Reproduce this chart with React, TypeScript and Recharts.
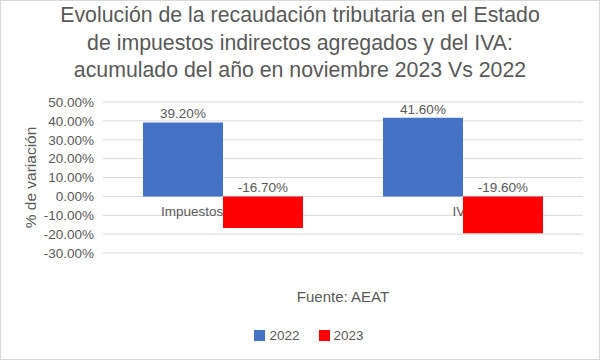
import React from 'react';
import { BarChart, Bar, XAxis, YAxis, CartesianGrid, Legend, LabelList, Rectangle } from 'recharts';

const categories = ['Impuestos indirectos', 'IVA'];
const values2022 = [0.392, 0.416];
const values2023 = [-0.167, -0.196];
const seriesNames = ['2022', '2023'];
const seriesColors = ['#4472C4', '#FF0000'];
const yTicks = [-0.3, -0.2, -0.1, 0, 0.1, 0.2, 0.3, 0.4, 0.5];
const titleLines = [
  'Evolución de la recaudación tributaria en el Estado',
  'de impuestos indirectos agregados y del IVA:',
  'acumulado del año en noviembre 2023 Vs 2022',
];
const yAxisTitle = '% de variación';
const xAxisTitle = 'Fuente: AEAT';

const data = categories.map((c, i) => ({ name: c, s2022: values2022[i], s2023: values2023[i] }));

const W = 600;
const H = 360;
const X_AXIS_H = 30;
const MARGIN = { top: 102, right: 17, bottom: 77, left: 8 };
const DOMAIN: [number, number] = [-0.3, 0.5];

const FONT = '"Liberation Sans", Arial, sans-serif';
const GREY = '#595959';

const pct = (v: number) => (v * 100).toFixed(2) + '%';

// First series shape: draws the bar and, underneath the next series, the category name
// at the zero line (like Excel's "axis at zero" category labels).
const FirstSeriesShape = (props: any) => {
  const { x, y, width, height, payload } = props;
  const zero = Math.max(y, y + height);
  return (
    <g>
      <text x={x + width} y={zero + 20} textAnchor="middle" fill={GREY} fontSize={13.5} fontFamily={FONT}>
        {payload.name}
      </text>
      <Rectangle {...props} />
    </g>
  );
};

const ValueLabel = (props: any) => {
  const { x, y, width, height, value } = props;
  const top = Math.min(y, y + height);
  return (
    <text x={x + width / 2} y={top - 4} textAnchor="middle" fill={GREY} fontSize={13.5} fontFamily={FONT}>
      {pct(value)}
    </text>
  );
};

const LegendContent = (props: any) => {
  const payload = props.payload || [];
  return (
    <div style={{ display: 'flex', justifyContent: 'center', gap: 19, fontFamily: FONT, fontSize: 13.5, color: GREY }}>
      {payload.map((p: any) => (
        <div key={p.value} style={{ display: 'flex', alignItems: 'center' }}>
          <span style={{ display: 'inline-block', width: 11, height: 11, background: p.color, marginRight: 4 }} />
          <span>{p.value}</span>
        </div>
      ))}
    </div>
  );
};

export default function App() {
  return (
    <div style={{ position: 'absolute', left: 0, top: 0, width: W, height: H, background: '#fff' }}>
      <div
        style={{
          position: 'absolute',
          left: 0,
          top: 2,
          width: W,
          textAlign: 'center',
          fontFamily: FONT,
          fontSize: 21.3,
          lineHeight: '27.5px',
          color: GREY,
        }}
      >
        {titleLines.map((l) => (
          <div key={l}>{l}</div>
        ))}
      </div>
      <BarChart width={W} height={H} data={data} margin={MARGIN} barGap={0} barSize={80}>
        <CartesianGrid vertical={false} stroke="#D9D9D9" />
        <XAxis
          dataKey="name"
          height={X_AXIS_H}
          axisLine={false}
          tickLine={false}
          tick={false}
          label={{ value: xAxisTitle, position: 'bottom', offset: 8, fill: GREY, fontSize: 15, fontFamily: FONT }}
        />
        <YAxis
          width={95}
          domain={DOMAIN}
          ticks={yTicks}
          interval={0}
          tickFormatter={pct}
          axisLine={false}
          tickLine={false}
          tickSize={0}
          tickMargin={9}
          tick={{ fill: GREY, fontSize: 13.5, fontFamily: FONT }}
          label={{
            value: yAxisTitle,
            angle: -90,
            position: 'insideLeft',
            offset: 22,
            style: { textAnchor: 'middle' },
            fill: GREY,
            fontSize: 15.5,
            fontFamily: FONT,
          }}
        />
        <Legend
          layout="horizontal"
          verticalAlign="middle"
          align="center"
          wrapperStyle={{ top: 328, left: 9, width: W }}
          content={<LegendContent />}
        />
        <Bar
          dataKey="s2022"
          name={seriesNames[0]}
          fill={seriesColors[0]}
          shape={FirstSeriesShape}
          isAnimationActive={false}
        >
          <LabelList dataKey="s2022" content={<ValueLabel />} />
        </Bar>
        <Bar dataKey="s2023" name={seriesNames[1]} fill={seriesColors[1]} isAnimationActive={false}>
          <LabelList dataKey="s2023" content={<ValueLabel />} />
        </Bar>
      </BarChart>
      <div
        style={{
          position: 'absolute',
          left: 0,
          top: 0,
          width: W,
          height: H,
          boxSizing: 'border-box',
          border: '1px solid #D9D9D9',
          pointerEvents: 'none',
        }}
      />
    </div>
  );
}
